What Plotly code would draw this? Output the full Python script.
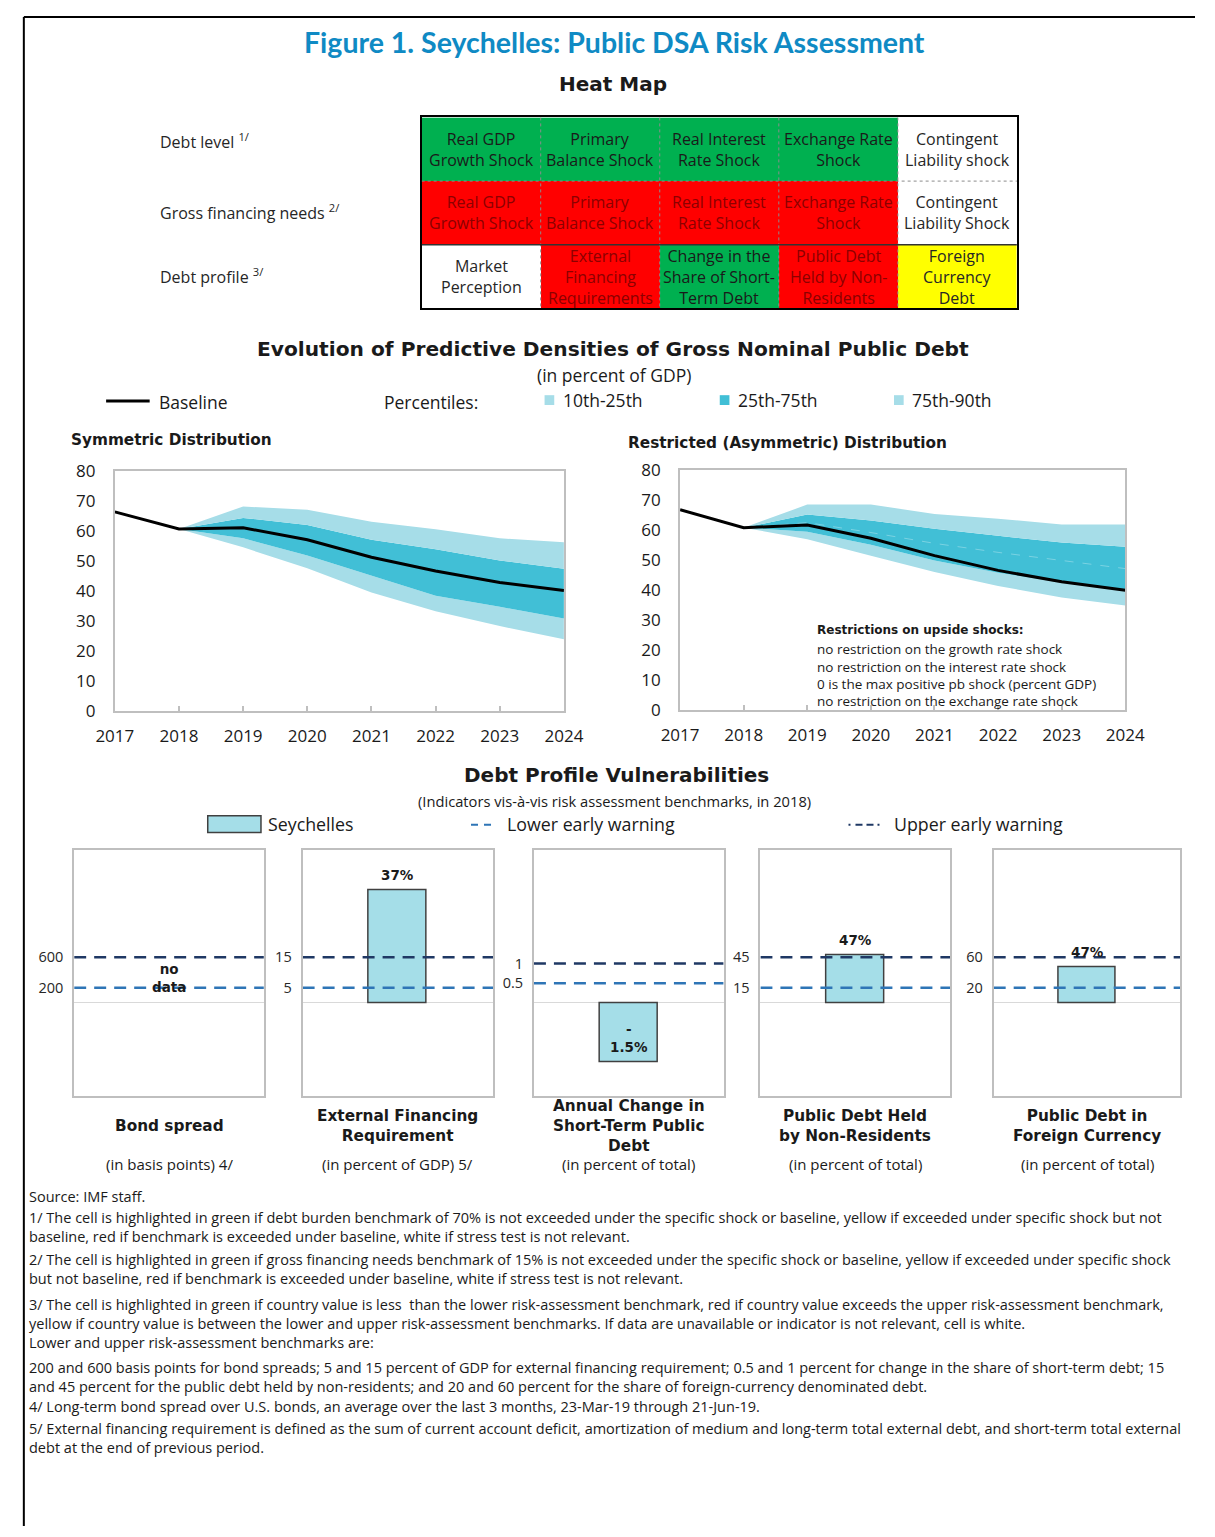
import plotly.graph_objects as go

W, H = 1215, 1537


def PX(v):
    return v / W


def PY(v):
    return 1 - v / H


SANS = "Open Sans, DejaVu Sans, sans-serif"
BOLDF = "DejaVu Sans, Verdana, sans-serif"
HUM = "Lato, Open Sans, sans-serif"
DARK = "#1a1a1a"

# ---------------- data: heat map ----------------
heat_rows = ["Debt level <sup>1/</sup>", "Gross financing needs <sup>2/</sup>", "Debt profile <sup>3/</sup>"]
# 0 = white (not relevant), 1 = green, 2 = yellow, 3 = red
heat_levels = [
    [1, 1, 1, 1, 0],
    [3, 3, 3, 3, 0],
    [0, 3, 1, 3, 2],
]
heat_labels = [
    ["Real GDP<br>Growth Shock", "Primary<br>Balance Shock", "Real Interest<br>Rate Shock",
     "Exchange Rate<br>Shock", "Contingent<br>Liability shock"],
    ["Real GDP<br>Growth Shock", "Primary<br>Balance Shock", "Real Interest<br>Rate Shock",
     "Exchange Rate<br>Shock", "Contingent<br>Liability Shock"],
    ["Market<br>Perception", "External<br>Financing<br>Requirements", "Change in the<br>Share of Short-<br>Term Debt",
     "Public Debt<br>Held by Non-<br>Residents", "Foreign<br>Currency<br>Debt"],
]

# ---------------- data: fan charts ----------------
years = [2017, 2018, 2019, 2020, 2021, 2022, 2023, 2024]
band_years = [2018, 2019, 2020, 2021, 2022, 2023, 2024]

sym_baseline = [66.4, 60.7, 61.1, 57.1, 51.3, 46.7, 42.9, 40.2]
sym_p10 = [60.7, 54.6, 47.6, 39.6, 33.3, 28.4, 24.0]
sym_p25 = [60.7, 57.6, 51.9, 45.2, 38.5, 34.8, 30.9]
sym_p75 = [60.7, 64.4, 62.0, 57.1, 54.0, 50.2, 47.5]
sym_p90 = [60.7, 68.2, 67.1, 63.1, 60.6, 57.6, 56.3]

res_baseline = [66.8, 60.8, 61.7, 57.3, 51.5, 46.6, 42.8, 40.0]
res_p10 = [60.8, 57.0, 51.5, 46.1, 41.4, 37.6, 34.9]
res_p25 = [60.8, 59.5, 55.1, 49.9, 45.8, 42.6, 39.8]
res_p50 = [60.8, 62.5, 59.2, 55.6, 52.6, 49.9, 47.2]
res_p75 = [60.8, 65.2, 63.2, 60.5, 58.1, 55.9, 54.5]
res_p90 = [60.8, 68.5, 68.5, 65.4, 63.8, 61.9, 61.9]

restriction_notes = [
    "no restriction on the growth rate shock",
    "no restriction on the interest rate shock",
    "0 is the max positive pb shock (percent GDP)",
    "no restriction on the exchange rate shock",
]

# ---------------- data: debt profile vulnerabilities ----------------
panel_titles = ["Bond spread", "External Financing<br>Requirement", "Annual Change in<br>Short-Term Public<br>Debt",
                "Public Debt Held<br>by Non-Residents", "Public Debt in<br>Foreign Currency"]
panel_units = ["(in basis points) 4/", "(in percent of GDP) 5/", "(in percent of total)",
               "(in percent of total)", "(in percent of total)"]
panel_values = [None, 37, -1.5, 47, 47]
panel_value_labels = ["no<br>data", "37%", "-<br>1.5%", "47%", "47%"]
lower_warning = [200, 5, 0.5, 15, 20]
upper_warning = [600, 15, 1, 45, 60]
lower_tick_text = ["200", "5", "0.5", "15", "20"]
upper_tick_text = ["600", "15", "1", "45", "60"]

# footnote paragraphs (each inner list = lines of one paragraph)
footnotes = [
    ["Source: IMF staff."],
    ["1/ The cell is highlighted in green if debt burden benchmark of 70% is not exceeded under the specific shock or baseline, yellow if exceeded under specific shock but not",
     "baseline, red if benchmark is exceeded under baseline, white if stress test is not relevant."],
    ["2/ The cell is highlighted in green if gross financing needs benchmark of 15% is not exceeded under the specific shock or baseline, yellow if exceeded under specific shock",
     "but not baseline, red if benchmark is exceeded under baseline, white if stress test is not relevant."],
    ["3/ The cell is highlighted in green if country value is less  than the lower risk-assessment benchmark, red if country value exceeds the upper risk-assessment benchmark,",
     "yellow if country value is between the lower and upper risk-assessment benchmarks. If data are unavailable or indicator is not relevant, cell is white.",
     "Lower and upper risk-assessment benchmarks are:"],
    ["200 and 600 basis points for bond spreads; 5 and 15 percent of GDP for external financing requirement; 0.5 and 1 percent for change in the share of short-term debt; 15",
     "and 45 percent for the public debt held by non-residents; and 20 and 60 percent for the share of foreign-currency denominated debt."],
    ["4/ Long-term bond spread over U.S. bonds, an average over the last 3 months, 23-Mar-19 through 21-Jun-19."],
    ["5/ External financing requirement is defined as the sum of current account deficit, amortization of medium and long-term total external debt, and short-term total external",
     "debt at the end of previous period."],
]

# ---------------- styling ----------------
GREEN, RED, YELLOW, WHITE = "#00B050", "#FF0000", "#FFFF00", "#FFFFFF"
LIGHT_BAND = "#A6DDE8"
DARK_BAND = "#41BFD6"
BAR_FILL = "#A5DEE8"
LOW_BLUE = "#2E75B6"
UP_NAVY = "#1F3864"
FRAME = "#BFBFBF"
text_color_by_level = {0: "#262626", 1: "#1a1a1a", 2: "#262626", 3: "#8B0000"}

fig = go.Figure()
annotations = []
shapes = []


def note(text, x, y, size=14, bold=False, xanchor="center", yanchor="middle", color=DARK, family=None,
         xref="paper", yref="paper", align="center", yshift=0):
    if family is None:
        family = BOLDF if bold else SANS
    if bold:
        text = "<b>" + text.replace("<br>", "</b><br><b>") + "</b>"
    annotations.append(dict(text=text, x=x, y=y, xref=xref, yref=yref, showarrow=False,
                            xanchor=xanchor, yanchor=yanchor, align=align, yshift=yshift,
                            font=dict(size=size, color=color, family=family)))


# ---------------- frame of the figure ----------------
shapes.append(dict(type="line", xref="paper", yref="paper", x0=PX(5), x1=1, y0=PY(5), y1=PY(5),
                   line=dict(color="black", width=2)))
shapes.append(dict(type="line", xref="paper", yref="paper", x0=PX(5), x1=PX(5), y0=PY(5), y1=0,
                   line=dict(color="black", width=2)))

# ---------------- titles ----------------
note("Figure 1. Seychelles: Public DSA Risk Assessment", PX(615), PY(30), size=28.5, bold=True,
     color="#0F8AC4", family=HUM)
note("Heat Map", PX(614), PY(73), size=20, bold=True)

# ---------------- heat map ----------------
fig.add_trace(go.Heatmap(
    z=heat_levels, x=list(range(5)), y=list(range(3)),
    colorscale=[[0, WHITE], [1 / 3, GREEN], [2 / 3, YELLOW], [1, RED]],
    zmin=0, zmax=3, showscale=False, hoverinfo="skip", xaxis="x", yaxis="y"))

for i, row in enumerate(heat_labels):
    for j, lab in enumerate(row):
        note(lab, j, i, size=16, xref="x", yref="y",
             color=text_color_by_level[heat_levels[i][j]])
    note(heat_rows[i], PX(144), i, size=16, xanchor="left", xref="paper", yref="y",
         color="#262626", yshift=8 if i == 0 else 1)

for j in range(4):
    shapes.append(dict(type="line", xref="x", yref="y", x0=j + 0.5, x1=j + 0.5, y0=-0.5, y1=2.5,
                       line=dict(color="#8c8c8c", width=1, dash="dot")))
shapes.append(dict(type="line", xref="x", yref="y", x0=-0.5, x1=4.5, y0=0.5, y1=0.5,
                   line=dict(color="#8c8c8c", width=1, dash="dot")))
shapes.append(dict(type="line", xref="x", yref="y", x0=-0.5, x1=4.5, y0=1.5, y1=1.5,
                   line=dict(color="#333333", width=1.5)))

# ---------------- fan charts ----------------
note("Evolution of Predictive Densities of Gross Nominal Public Debt", PX(614), PY(342), size=20.2, bold=True)
note("(in percent of GDP)", PX(615), PY(369), size=17.5)

shapes.append(dict(type="line", xref="paper", yref="paper", x0=PX(90), x1=PX(135), y0=PY(395), y1=PY(395),
                   line=dict(color="black", width=3)))
note("Baseline", PX(143), PY(396), size=17.5, xanchor="left")
note("Percentiles:", PX(375), PY(396), size=17.5, xanchor="left")
for (sx, col, lab) in [(543, LIGHT_BAND, "10th-25th"), (724, DARK_BAND, "25th-75th"), (904, LIGHT_BAND, "75th-90th")]:
    shapes.append(dict(type="rect", xref="paper", yref="paper", x0=PX(sx), x1=PX(sx + 10),
                       y0=PY(399), y1=PY(389), fillcolor=col, line=dict(width=0)))
    note(lab, PX(sx + 17), PY(394), size=17.5, xanchor="left")

note("Symmetric Distribution", PX(52), PY(435), size=15.3, bold=True, xanchor="left")
note("Restricted (Asymmetric) Distribution", PX(627), PY(438), size=15.3, bold=True, xanchor="left")


def add_fan(xa, ya, p10, p25, p75, p90, base, median=None):
    kw = dict(xaxis=xa, yaxis=ya, mode="lines", hoverinfo="skip", showlegend=False)
    fig.add_trace(go.Scatter(x=band_years, y=p10, line=dict(width=0, color=LIGHT_BAND), **kw))
    fig.add_trace(go.Scatter(x=band_years, y=p25, line=dict(width=0, color=LIGHT_BAND),
                             fill="tonexty", fillcolor=LIGHT_BAND, **kw))
    fig.add_trace(go.Scatter(x=band_years, y=p75, line=dict(width=0, color=DARK_BAND),
                             fill="tonexty", fillcolor=DARK_BAND, **kw))
    fig.add_trace(go.Scatter(x=band_years, y=p90, line=dict(width=0, color=LIGHT_BAND),
                             fill="tonexty", fillcolor=LIGHT_BAND, **kw))
    if median is not None:
        fig.add_trace(go.Scatter(x=band_years, y=median, line=dict(width=1, color="rgba(255,255,255,0.3)",
                                                                    dash="dash"), **kw))
    fig.add_trace(go.Scatter(x=years, y=base, line=dict(width=3, color="black"), **kw))


add_fan("x2", "y2", sym_p10, sym_p25, sym_p75, sym_p90, sym_baseline)
add_fan("x3", "y3", res_p10, res_p25, res_p75, res_p90, res_baseline, res_p50)

note("Restrictions on upside shocks:", PX(822), PY(627), size=12, bold=True, xanchor="left")
for k, line in enumerate(restriction_notes):
    note(line, PX(822), PY([647, 665, 682, 699][k]), size=13.5, xanchor="left")

# ---------------- debt profile vulnerabilities ----------------
note("Debt Profile Vulnerabilities", PX(617), PY(775), size=20, bold=True)
note("(Indicators vis-à-vis risk assessment benchmarks, in 2018)", PX(615), PY(801), size=14.7)

shapes.append(dict(type="rect", xref="paper", yref="paper", x0=PX(195), x1=PX(250), y0=PY(833), y1=PY(816),
                   fillcolor=BAR_FILL, line=dict(color="#404040", width=1.5)))
note("Seychelles", PX(255), PY(824), size=17.8, xanchor="left")
shapes.append(dict(type="line", xref="paper", yref="paper", x0=PX(467), x1=PX(490), y0=PY(825), y1=PY(825),
                   line=dict(color=LOW_BLUE, width=2, dash="7px,6px")))
note("Lower early warning", PX(502), PY(824), size=17.8, xanchor="left")
shapes.append(dict(type="line", xref="paper", yref="paper", x0=PX(857), x1=PX(890), y0=PY(825), y1=PY(825),
                   line=dict(color=UP_NAVY, width=2, dash="2px,5px,7px,4px,7px,4px")))
note("Upper early warning", PX(902), PY(824), size=17.8, xanchor="left")

panel_x = [(57, 253), (293, 490), (532, 728), (766, 962), (1007, 1200)]
panel_scale = [31 / 400, 31 / 10, 40, 31 / 30, 31 / 40]  # pixels per unit
P_TOP, P_BOT, P_ZERO = 851, 1100, 1006

for p in range(5):
    n = p + 4
    xa, ya = "x%d" % n, "y%d" % n
    if panel_values[p] is not None:
        fig.add_trace(go.Bar(x=[0.5], y=[panel_values[p]], width=0.305, xaxis=xa, yaxis=ya,
                             marker=dict(color=BAR_FILL, line=dict(color="#404040", width=1.5)),
                             hoverinfo="skip", showlegend=False))
    fig.add_trace(go.Scatter(x=[0, 1], y=[upper_warning[p]] * 2, mode="lines", xaxis=xa, yaxis=ya,
                             line=dict(color=UP_NAVY, width=2.5, dash="12px,8px"),
                             hoverinfo="skip", showlegend=False))
    fig.add_trace(go.Scatter(x=[0, 1], y=[lower_warning[p]] * 2, mode="lines", xaxis=xa, yaxis=ya,
                             line=dict(color=LOW_BLUE, width=2.5, dash="12px,8px"),
                             hoverinfo="skip", showlegend=False))
    cx = (panel_x[p][0] + panel_x[p][1]) / 2
    v = panel_values[p]
    if v is None:
        note(panel_value_labels[p], 0.5, lower_warning[p], size=13.5, bold=True, xref=xa, yref=ya,
             yanchor="bottom", yshift=-9)
    elif v < 0:
        note(panel_value_labels[p], 0.5, v, size=13.5, bold=True, xref=xa, yref=ya,
             yanchor="bottom", yshift=5)
    else:
        note(panel_value_labels[p], 0.5, v, size=13.5, bold=True, xref=xa, yref=ya, yshift=15)
    note(panel_titles[p], PX(cx), PY(1131), size=15.3, bold=True)
    note(panel_units[p], PX(cx), PY(1169), size=15)

foot_top = [1201, 1222, 1265, 1310, 1374, 1414, 1436]  # centre of first line of each paragraph
for k, para in enumerate(footnotes):
    note("<br>".join(para), PX(8), PY(foot_top[k] - 10), size=14.5, xanchor="left", yanchor="top",
         align="left")

# ---------------- layout / axes ----------------
layout = dict(
    width=W, height=H, margin=dict(l=0, r=0, t=0, b=0),
    paper_bgcolor="white", plot_bgcolor="white", showlegend=False,
    font=dict(family=SANS, color=DARK),
    annotations=annotations, shapes=shapes, bargap=0,
)

layout["xaxis"] = dict(domain=[PX(416), PX(1031)], range=[-0.5, 4.5], showticklabels=False, showgrid=False,
                       zeroline=False, showline=True, mirror=True, linecolor="black", linewidth=2, anchor="y")
layout["yaxis"] = dict(domain=[PY(301), PY(107)], range=[2.5, -0.5], showticklabels=False, showgrid=False,
                       zeroline=False, showline=True, mirror=True, linecolor="black", linewidth=2, anchor="x")

fan_domains = [((99, 563), (466, 710)), ((683, 1143), (465, 709))]
for k, ((xl, xr), (yt, yb)) in enumerate(fan_domains):
    n = k + 2
    layout["xaxis%d" % n] = dict(domain=[PX(xl), PX(xr)], range=[2017, 2024], tickvals=years,
                                 ticktext=[str(y) for y in years], ticks="inside", ticklen=5, tickcolor=FRAME,
                                 tickwidth=1.5, showgrid=False, zeroline=False, showline=True, mirror=True,
                                 linecolor=FRAME, linewidth=2, anchor="y%d" % n, ticklabelstandoff=8,
                                 tickfont=dict(size=17, color=DARK))
    layout["yaxis%d" % n] = dict(domain=[PY(yb), PY(yt)], range=[0, 80], tickvals=list(range(0, 81, 10)),
                                 showgrid=False, zeroline=False, showline=True, mirror=True,
                                 linecolor=FRAME, linewidth=2, anchor="x%d" % n, ticks="",
                                 ticklabelstandoff=14, tickfont=dict(size=17, color=DARK))

for p in range(5):
    n = p + 4
    k = panel_scale[p]
    layout["xaxis%d" % n] = dict(domain=[PX(panel_x[p][0]), PX(panel_x[p][1])], range=[0, 1],
                                 showticklabels=False, showgrid=False, zeroline=False, showline=True,
                                 mirror=True, linecolor=FRAME, linewidth=2, anchor="y%d" % n, ticks="")
    layout["yaxis%d" % n] = dict(domain=[PY(P_BOT), PY(P_TOP)],
                                 range=[-(P_BOT - P_ZERO) / k, (P_ZERO - P_TOP) / k],
                                 tickvals=[lower_warning[p], upper_warning[p]],
                                 ticktext=[lower_tick_text[p], upper_tick_text[p]],
                                 showgrid=False, zeroline=True, zerolinecolor="#D9D9D9", zerolinewidth=1,
                                 showline=True, mirror=True, linecolor=FRAME, linewidth=2,
                                 anchor="x%d" % n, ticks="", ticklabelstandoff=6,
                                 tickfont=dict(size=14.5, color="#262626"))

fig.update_layout(**layout)
fig.write_html("out.html", config={"displayModeBar": False},
               post_script="document.body.style.margin='0';document.body.style.overflow='hidden';")
